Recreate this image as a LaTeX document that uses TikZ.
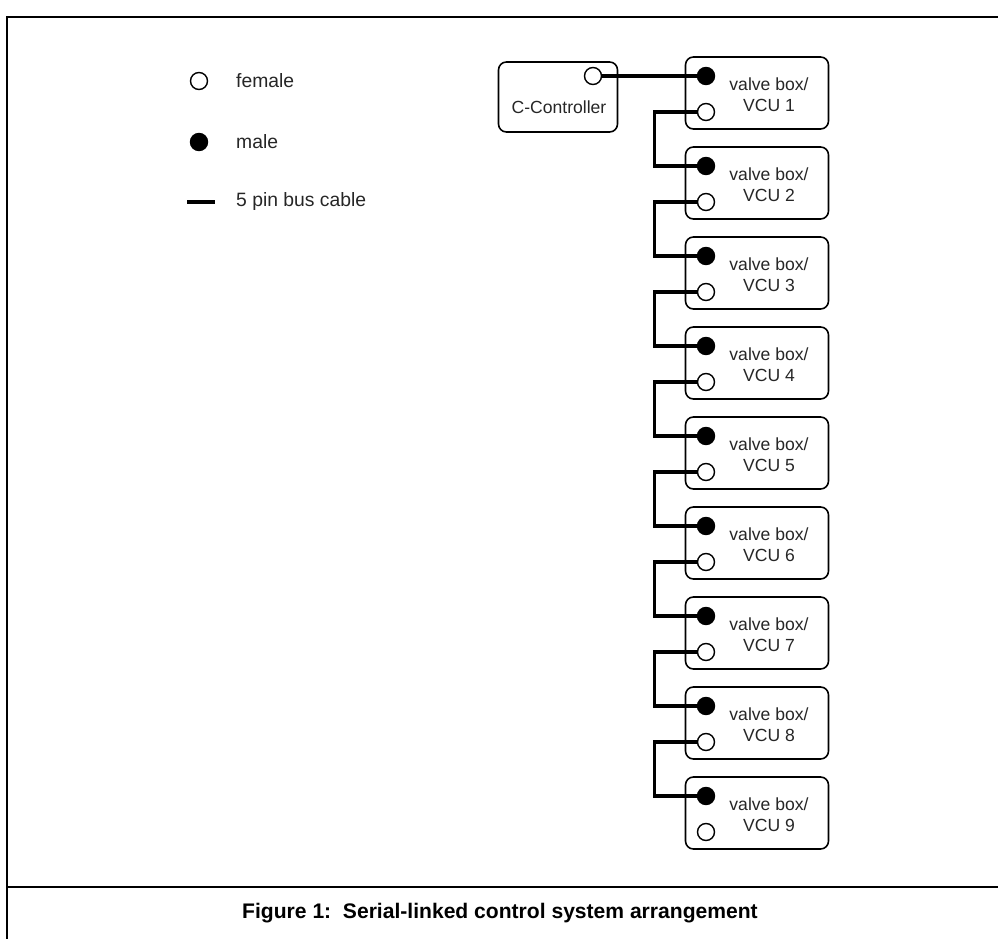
\documentclass[tikz,border=0pt]{standalone}
\usepackage{fontspec}
\setmainfont{Liberation Sans}
\usepackage{tikz}
\usetikzlibrary{positioning}

\begin{document}
\begin{tikzpicture}[x=0.02cm,y=-0.02cm]

    \tikzstyle{every node}=[font=\fontsize{10}{12}\selectfont, text=black!85]
    \tikzstyle{unitbox}=[draw, line width=0.9pt, rounded corners=4.5pt, minimum width=2.86cm, minimum height=1.44cm]
    \tikzstyle{female}=[circle, draw, line width=0.8pt, fill=white, minimum size=0.34cm, inner sep=0pt]
    \tikzstyle{male}=[circle, draw, line width=0.8pt, fill=black, minimum size=0.34cm, inner sep=0pt]
    \tikzstyle{cable}=[line width=1.8pt]
    \tikzstyle{legendtext}=[right, font=\fontsize{11}{13}\selectfont]

    % page size
    \useasboundingbox (0,0) rectangle (998,939);

    % frame and caption line
    \draw[line width=0.9pt] (998,17) -- (7,17) -- (7,939);
    \draw[line width=0.9pt] (7,887) -- (998,887);
    \node[font=\fontsize{12}{14}\selectfont\bfseries, text=black] (caption) at (500,913)
        {Figure 1:\ \ Serial-linked control system arrangement};

    % legend
    \node[female] (lfemale) at (199,81) {};
    \node[legendtext] at (230,81) {female};
    \node[male] (lmale) at (199,142) {};
    \node[legendtext] at (230,142) {male};
    \draw[cable, line width=2.2pt] (187,202) -- (215,202);
    \node[legendtext] at (230,202) {5 pin bus cable};

    % controller
    \node[unitbox, minimum width=2.38cm, minimum height=1.4cm] (ctrl) at (558,97) {};
    \node (ctrltext) at (559,107) {C-Controller};
    \node[female] (cf) at (593,76) {};

    % valve boxes
    \foreach \i in {1,...,9} {
        \pgfmathsetmacro\yc{93+90*(\i-1)}
        \node[unitbox] (v\i) at (757,\yc) {};
        \node[align=center] (t\i) at (769,\yc+2) {valve box/\\VCU \i};
        \node[male] (m\i) at (706,\yc-17) {};
        \node[female] (f\i) at (706,\yc+19) {};
    }

    % bus cables
    \draw[cable] (cf.east) -- (m1.west);
    \foreach \i [evaluate=\i as \j using int(\i+1)] in {1,...,8}
        \draw[cable] (f\i.west) -- ++(-42,0) |- (m\j.west);

\end{tikzpicture}
\end{document}
